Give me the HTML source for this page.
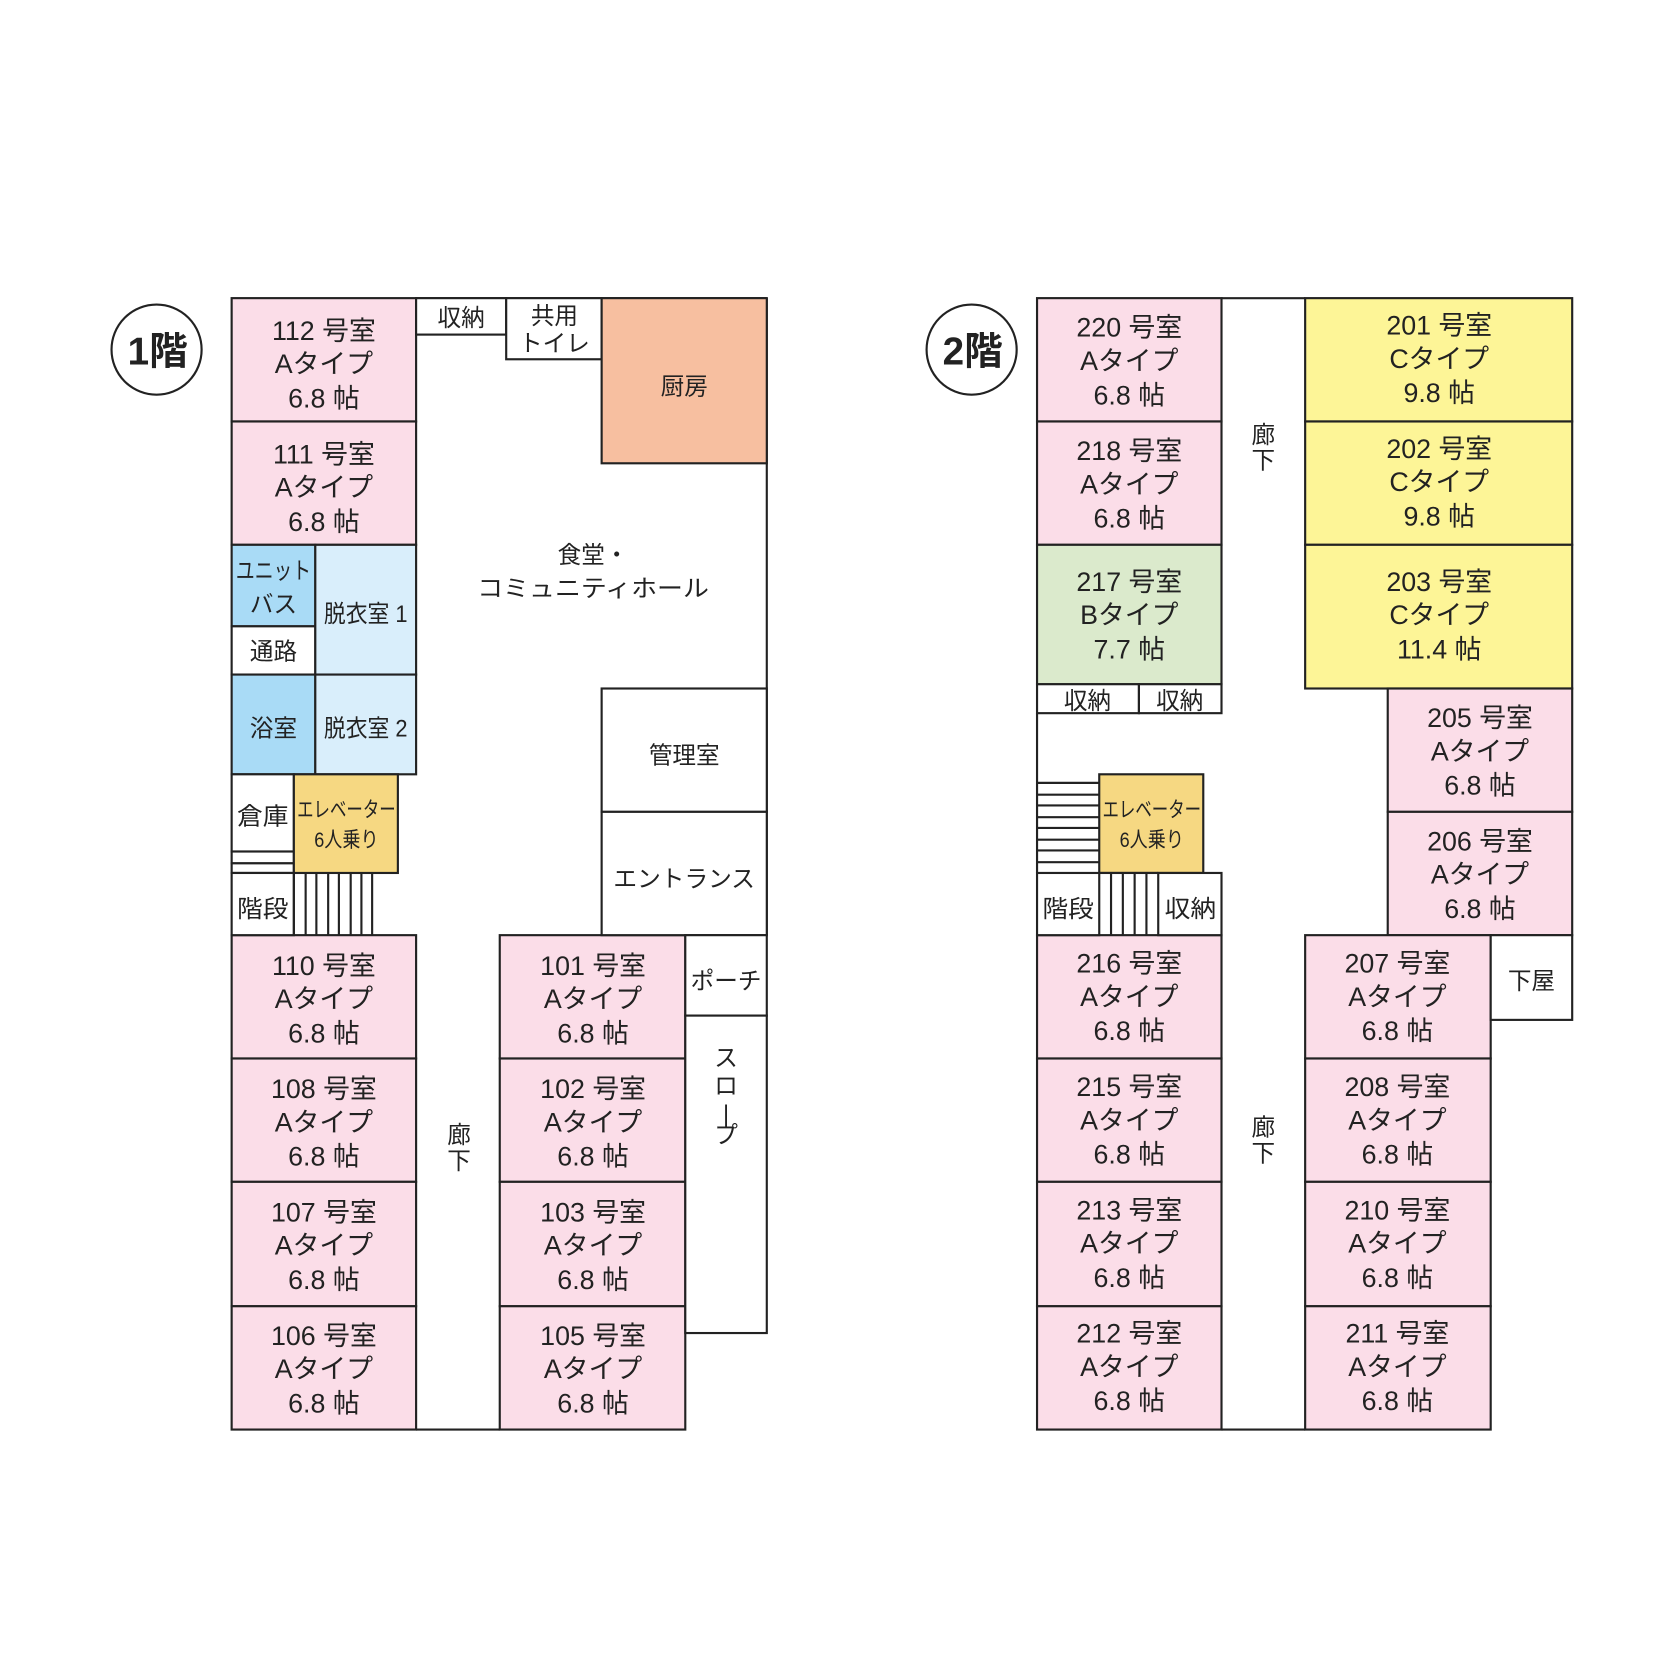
<!DOCTYPE html>
<html><head><meta charset="utf-8"><style>
html,body{margin:0;padding:0;background:#fff}
svg{display:block}
text{font-family:"Liberation Sans","Noto Sans CJK JP",sans-serif;fill:#222;text-anchor:middle}
.r{font-size:25px}
.s{font-size:22px}
rect,line,circle{stroke:#222;stroke-width:2}
rect.bg{stroke:none}
</style></head><body>
<svg width="1673" height="1673" viewBox="0 0 1560 1560" xmlns="http://www.w3.org/2000/svg">
<rect class="bg" x="0" y="0" width="1560" height="1560" fill="#fff"/>

<!-- ===== 1F ===== -->
<circle cx="146" cy="326" r="42" fill="#fff"/>
<text x="147" y="340" style="font-size:36px;font-weight:bold">1階</text>

<line x1="388" y1="278" x2="715" y2="278"/>
<line x1="715" y1="278" x2="715" y2="872"/>
<line x1="388" y1="1333" x2="466" y2="1333"/>

<g class="r">
<rect x="216" y="278" width="172" height="115" fill="#fbdde8"/>
<text x="302" y="317">112 号室</text><text x="302" y="348">Aタイプ</text><text x="302" y="380">6.8 帖</text>
<rect x="216" y="393" width="172" height="115" fill="#fbdde8"/>
<text x="302" y="432">111 号室</text><text x="302" y="463">Aタイプ</text><text x="302" y="495">6.8 帖</text>
<rect x="216" y="872" width="172" height="115" fill="#fbdde8"/>
<text x="302" y="909">110 号室</text><text x="302" y="940">Aタイプ</text><text x="302" y="972">6.8 帖</text>
<rect x="216" y="987" width="172" height="115" fill="#fbdde8"/>
<text x="302" y="1024">108 号室</text><text x="302" y="1055">Aタイプ</text><text x="302" y="1087">6.8 帖</text>
<rect x="216" y="1102" width="172" height="116" fill="#fbdde8"/>
<text x="302" y="1139">107 号室</text><text x="302" y="1170">Aタイプ</text><text x="302" y="1202">6.8 帖</text>
<rect x="216" y="1218" width="172" height="115" fill="#fbdde8"/>
<text x="302" y="1254">106 号室</text><text x="302" y="1285">Aタイプ</text><text x="302" y="1317">6.8 帖</text>

<rect x="466" y="872" width="173" height="115" fill="#fbdde8"/>
<text x="553" y="909">101 号室</text><text x="553" y="940">Aタイプ</text><text x="553" y="972">6.8 帖</text>
<rect x="466" y="987" width="173" height="115" fill="#fbdde8"/>
<text x="553" y="1024">102 号室</text><text x="553" y="1055">Aタイプ</text><text x="553" y="1087">6.8 帖</text>
<rect x="466" y="1102" width="173" height="116" fill="#fbdde8"/>
<text x="553" y="1139">103 号室</text><text x="553" y="1170">Aタイプ</text><text x="553" y="1202">6.8 帖</text>
<rect x="466" y="1218" width="173" height="115" fill="#fbdde8"/>
<text x="553" y="1254">105 号室</text><text x="553" y="1285">Aタイプ</text><text x="553" y="1317">6.8 帖</text>
</g>

<g class="s">
<rect x="216" y="508" width="78" height="76" fill="#a9dbf6"/>
<text x="255" y="540" textLength="70" lengthAdjust="spacingAndGlyphs">ユニット</text><text x="255" y="571">バス</text>
<rect x="216" y="584" width="78" height="45" fill="#fff"/>
<text x="255" y="615">通路</text>
<rect x="294" y="508" width="94" height="121" fill="#d9eefb"/>
<text x="341" y="580" textLength="78" lengthAdjust="spacingAndGlyphs">脱衣室 1</text>
<rect x="216" y="629" width="78" height="93" fill="#a9dbf6"/>
<text x="255" y="687">浴室</text>
<rect x="294" y="629" width="94" height="93" fill="#d9eefb"/>
<text x="341" y="687" textLength="78" lengthAdjust="spacingAndGlyphs">脱衣室 2</text>

<rect x="216" y="722" width="58" height="72" fill="#fff"/>
<text x="245" y="769" textLength="48" lengthAdjust="spacingAndGlyphs">倉庫</text>
<rect x="216" y="794" width="58" height="11" fill="#fff"/>
<rect x="216" y="805" width="58" height="9" fill="#fff"/>
<rect x="216" y="814" width="58" height="58" fill="#fff"/>
<text x="245" y="855" textLength="48" lengthAdjust="spacingAndGlyphs">階段</text>
<rect x="274" y="722" width="97" height="92" fill="#f6d882"/>
<text x="323" y="762" style="font-size:20px" textLength="92" lengthAdjust="spacingAndGlyphs">エレベーター</text>
<text x="323" y="790" style="font-size:20px" textLength="60" lengthAdjust="spacingAndGlyphs">6人乗り</text>
<line x1="274" y1="814" x2="274" y2="872"/><line x1="285" y1="814" x2="285" y2="872"/>
<line x1="295" y1="814" x2="295" y2="872"/><line x1="306" y1="814" x2="306" y2="872"/>
<line x1="316" y1="814" x2="316" y2="872"/><line x1="327" y1="814" x2="327" y2="872"/>
<line x1="337" y1="814" x2="337" y2="872"/><line x1="347" y1="814" x2="347" y2="872"/>

<rect x="388" y="278" width="84" height="34" fill="#fff"/>
<text x="430" y="304">収納</text>
<rect x="472" y="278" width="89" height="57" fill="#fff"/>
<text x="517" y="302">共用</text><text x="517" y="328">トイレ</text>
<rect x="561" y="278" width="154" height="154" fill="#f7bfa0"/>
<text x="638" y="368">厨房</text>
<text x="553" y="525">食堂・</text>
<text x="553" y="556" textLength="216" lengthAdjust="spacingAndGlyphs">コミュニティホール</text>
<rect x="561" y="642" width="154" height="115" fill="#fff"/>
<text x="638" y="712">管理室</text>
<rect x="561" y="757" width="154" height="115" fill="#fff"/>
<text x="638" y="827" textLength="132" lengthAdjust="spacingAndGlyphs">エントランス</text>
<rect x="639" y="872" width="76" height="75" fill="#fff"/>
<text x="677" y="922" textLength="66" lengthAdjust="spacingAndGlyphs">ポーチ</text>
<rect x="639" y="947" width="76" height="296" fill="#fff"/>
<text x="677" y="994">ス</text><text x="677" y="1020">ロ</text><text x="677" y="1046">|</text><text x="677" y="1066">プ</text>
<text x="428" y="1066">廊</text><text x="428" y="1090">下</text>
</g>

<!-- ===== 2F ===== -->
<circle cx="906" cy="326" r="42" fill="#fff"/>
<text x="907" y="340" style="font-size:36px;font-weight:bold">2階</text>

<line x1="1139" y1="278" x2="1217" y2="278"/>
<line x1="1139" y1="1333" x2="1217" y2="1333"/>
<line x1="967" y1="665" x2="967" y2="814"/>

<g class="r">
<rect x="967" y="278" width="172" height="115" fill="#fbdde8"/>
<text x="1053" y="314">220 号室</text><text x="1053" y="345">Aタイプ</text><text x="1053" y="377">6.8 帖</text>
<rect x="967" y="393" width="172" height="115" fill="#fbdde8"/>
<text x="1053" y="429">218 号室</text><text x="1053" y="460">Aタイプ</text><text x="1053" y="492">6.8 帖</text>
<rect x="967" y="508" width="172" height="130" fill="#dbeacc"/>
<text x="1053" y="551">217 号室</text><text x="1053" y="582">Bタイプ</text><text x="1053" y="614">7.7 帖</text>
<rect x="967" y="872" width="172" height="115" fill="#fbdde8"/>
<text x="1053" y="907">216 号室</text><text x="1053" y="938">Aタイプ</text><text x="1053" y="970">6.8 帖</text>
<rect x="967" y="987" width="172" height="115" fill="#fbdde8"/>
<text x="1053" y="1022">215 号室</text><text x="1053" y="1053">Aタイプ</text><text x="1053" y="1085">6.8 帖</text>
<rect x="967" y="1102" width="172" height="116" fill="#fbdde8"/>
<text x="1053" y="1137">213 号室</text><text x="1053" y="1168">Aタイプ</text><text x="1053" y="1200">6.8 帖</text>
<rect x="967" y="1218" width="172" height="115" fill="#fbdde8"/>
<text x="1053" y="1252">212 号室</text><text x="1053" y="1283">Aタイプ</text><text x="1053" y="1315">6.8 帖</text>

<rect x="1217" y="278" width="249" height="115" fill="#fdf597"/>
<text x="1342" y="312">201 号室</text><text x="1342" y="343">Cタイプ</text><text x="1342" y="375">9.8 帖</text>
<rect x="1217" y="393" width="249" height="115" fill="#fdf597"/>
<text x="1342" y="427">202 号室</text><text x="1342" y="458">Cタイプ</text><text x="1342" y="490">9.8 帖</text>
<rect x="1217" y="508" width="249" height="134" fill="#fdf597"/>
<text x="1342" y="551">203 号室</text><text x="1342" y="582">Cタイプ</text><text x="1342" y="614">11.4 帖</text>
<rect x="1294" y="642" width="172" height="115" fill="#fbdde8"/>
<text x="1380" y="678">205 号室</text><text x="1380" y="709">Aタイプ</text><text x="1380" y="741">6.8 帖</text>
<rect x="1294" y="757" width="172" height="115" fill="#fbdde8"/>
<text x="1380" y="793">206 号室</text><text x="1380" y="824">Aタイプ</text><text x="1380" y="856">6.8 帖</text>
<rect x="1217" y="872" width="173" height="115" fill="#fbdde8"/>
<text x="1303" y="907">207 号室</text><text x="1303" y="938">Aタイプ</text><text x="1303" y="970">6.8 帖</text>
<rect x="1217" y="987" width="173" height="115" fill="#fbdde8"/>
<text x="1303" y="1022">208 号室</text><text x="1303" y="1053">Aタイプ</text><text x="1303" y="1085">6.8 帖</text>
<rect x="1217" y="1102" width="173" height="116" fill="#fbdde8"/>
<text x="1303" y="1137">210 号室</text><text x="1303" y="1168">Aタイプ</text><text x="1303" y="1200">6.8 帖</text>
<rect x="1217" y="1218" width="173" height="115" fill="#fbdde8"/>
<text x="1303" y="1252">211 号室</text><text x="1303" y="1283">Aタイプ</text><text x="1303" y="1315">6.8 帖</text>
</g>

<g class="s">
<rect x="967" y="638" width="95" height="27" fill="#fff"/>
<text x="1014" y="661">収納</text>
<rect x="1062" y="638" width="77" height="27" fill="#fff"/>
<text x="1100" y="661">収納</text>

<line x1="967" y1="730" x2="1025" y2="730"/><line x1="967" y1="741" x2="1025" y2="741"/>
<line x1="967" y1="751" x2="1025" y2="751"/><line x1="967" y1="762" x2="1025" y2="762"/>
<line x1="967" y1="772" x2="1025" y2="772"/><line x1="967" y1="783" x2="1025" y2="783"/>
<line x1="967" y1="793" x2="1025" y2="793"/><line x1="967" y1="804" x2="1025" y2="804"/>
<rect x="1025" y="722" width="97" height="92" fill="#f6d882"/>
<text x="1074" y="762" style="font-size:20px" textLength="92" lengthAdjust="spacingAndGlyphs">エレベーター</text>
<text x="1074" y="790" style="font-size:20px" textLength="60" lengthAdjust="spacingAndGlyphs">6人乗り</text>
<rect x="967" y="814" width="58" height="58" fill="#fff"/>
<text x="996" y="855" textLength="48" lengthAdjust="spacingAndGlyphs">階段</text>
<rect x="1080" y="814" width="59" height="58" fill="#fff"/>
<text x="1110" y="855" textLength="48" lengthAdjust="spacingAndGlyphs">収納</text>
<line x1="1025" y1="814" x2="1080" y2="814"/>
<line x1="1036" y1="814" x2="1036" y2="872"/><line x1="1047" y1="814" x2="1047" y2="872"/>
<line x1="1058" y1="814" x2="1058" y2="872"/><line x1="1069" y1="814" x2="1069" y2="872"/>

<rect x="1390" y="872" width="76" height="79" fill="#fff"/>
<text x="1428" y="922">下屋</text>
<text x="1178" y="413">廊</text><text x="1178" y="437">下</text>
<text x="1178" y="1059">廊</text><text x="1178" y="1083">下</text>
</g>
</svg>
</body></html>
